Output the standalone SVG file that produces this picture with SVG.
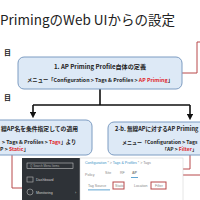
<svg xmlns="http://www.w3.org/2000/svg" width="200" height="200" viewBox="0 0 200 200">
<defs>
<style>
.t{font-family:"Noto Sans CJK JP","Noto Sans",sans-serif;fill:#222}
.b{font-weight:bold}
.r{fill:#e0262b}
.box{fill:#dde9f6;stroke:#7d9cc2;stroke-width:1}
.k{stroke:#111;stroke-width:1.6;fill:none}
.rl{stroke:#b8484a;stroke-width:1;fill:none}
.ui{font-family:"Liberation Sans",sans-serif;font-size:3.6px;fill:#888}
</style>
<marker id="ah" markerWidth="4" markerHeight="4" refX="2" refY="2" orient="auto" markerUnits="strokeWidth"><path d="M0,0 L4,2 L0,4 z" fill="#111"/></marker>
</defs>
<rect width="200" height="200" fill="#fff"/>
<text class="t" x="0" y="25" font-size="13.5">PrimingのWeb UIからの設定</text>
<text class="t b" x="4" y="55" font-size="7">目</text>
<text class="t b" x="4" y="100" font-size="7">目</text>

<g id="connectors">
<path class="k" d="M100,89 V105 M33,105 H190"/>
<path class="k" d="M33,105 V115" marker-end="url(#ah)"/>
<path class="k" d="M190,105 V117" marker-end="url(#ah)"/>
<path class="rl" d="M182,73 H197 V42 H210 M12,155 V188 H113 M190,155 V169 H159 V182 M180,175 H200"/>
</g>

<g id="box1">
<rect class="box" x="18" y="57" width="164" height="32" rx="6"/>
<text class="t b" x="100" y="69" font-size="6.1" text-anchor="middle">1. AP Priming Profile自体の定義</text>
<text class="t b" x="100" y="82" font-size="5.3" text-anchor="middle">メニュー「Configuration &gt; Tags &amp; Profiles &gt; <tspan class="r">AP Priming</tspan>」</text>
</g>

<g id="box2a">
<rect class="box" x="-20" y="120" width="112" height="35" rx="6"/>
<text class="t b" x="1" y="131" font-size="5.8">線AP名を条件指定しての適用</text>
<text class="t b" x="2" y="144" font-size="5.2">&gt; Tags &amp; Profiles &gt; <tspan class="r">Tags</tspan>」より</text>
<text class="t b" x="0" y="150.5" font-size="5.2">P &gt; <tspan class="r">Static</tspan>」</text>
</g>

<g id="box2b">
<rect class="box" x="108" y="122" width="110" height="33" rx="6"/>
<text class="t b" x="115" y="131" font-size="5.6">2-b. 無線APに対するAP Priming</text>
<text class="t b" x="122" y="144" font-size="5">メニュー「Configuration &gt; Tags</text>
<text class="t b" x="162" y="150.5" font-size="5">「AP &gt; <tspan class="r">Filter</tspan>」</text>
</g>

<g id="screenshot">
<rect x="22" y="158" width="58" height="45" fill="#2e3237"/>
<rect x="80" y="158" width="103" height="45" fill="#fff" stroke="#ccc" stroke-width="0.5"/>
<rect x="27" y="163" width="46" height="5.5" fill="#2e3237" stroke="#ddd" stroke-width="0.5"/>
<text x="30" y="167" font-family="Liberation Sans,sans-serif" font-size="3" fill="#aaa">Q  Search Menu Items</text>
<rect x="27" y="177" width="6" height="5" fill="none" stroke="#bbb" stroke-width="0.6"/>
<text x="36" y="181" font-family="Liberation Sans,sans-serif" font-size="3.6" fill="#ccc">Dashboard</text>
<circle cx="30" cy="192" r="3" fill="none" stroke="#bbb" stroke-width="0.6"/>
<text x="36" y="193.5" font-family="Liberation Sans,sans-serif" font-size="3.6" fill="#ccc">Monitoring</text>
<text x="75" y="193.5" font-family="Liberation Sans,sans-serif" font-size="3.6" fill="#ccc">›</text>
<text class="ui" x="85" y="164"><tspan fill="#3a8fc7">Configuration</tspan> * &gt; <tspan fill="#3a8fc7">Tags &amp; Profiles</tspan> * &gt; Tags</text>
<text class="ui" x="85" y="176">Policy</text>
<text class="ui" x="105" y="174">Site</text>
<text class="ui" x="120" y="174">RF</text>
<text class="ui" x="132" y="174" fill="#222" font-weight="bold">AP</text>
<rect x="131" y="177" width="7" height="0.8" fill="#3a8fc7"/>
<text class="ui" x="88" y="187" fill="#333">Tag Source</text>
<rect x="88" y="189.5" width="22" height="0.8" fill="#3a8fc7"/>
<text class="ui" x="115" y="187">Static</text>
<text class="ui" x="134" y="187">Location</text>
<text class="ui" x="155" y="187">Filter</text>
<rect class="rl" x="113" y="182" width="11" height="7"/>
<rect class="rl" x="151" y="182" width="15" height="7"/>
</g>
</svg>
